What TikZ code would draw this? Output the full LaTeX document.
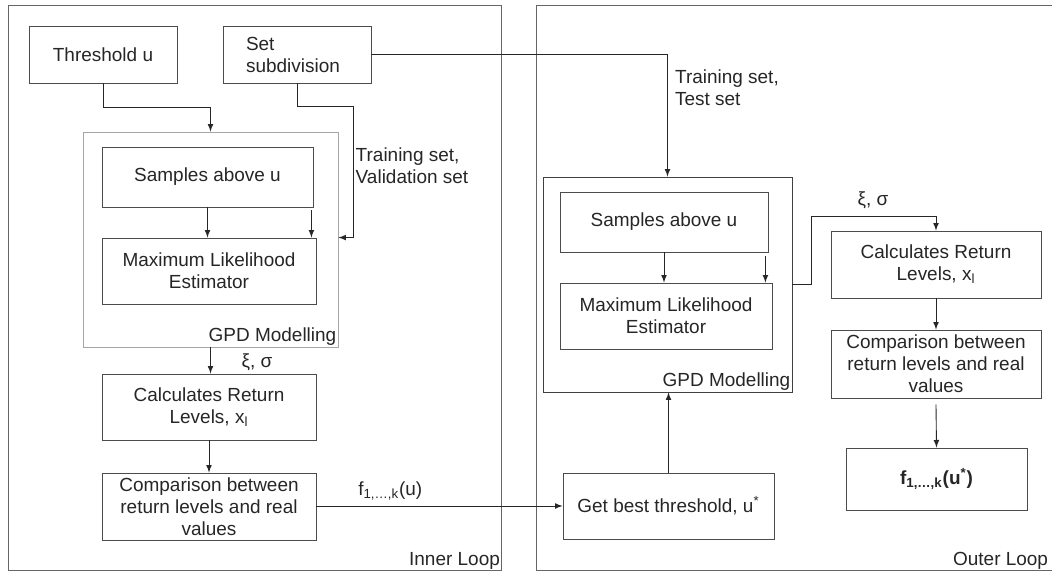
\documentclass[tikz,border=0pt]{standalone}
\usepackage{fontspec}
\setmainfont{Liberation Sans}
\tikzset{
	box/.style = {draw = black!70, line width = 0.5pt, align = center, inner sep = 1pt,
		font = \fontsize{10.8}{12.5}\selectfont},
	frame/.style = {draw, line width = 0.5pt, inner sep = 0pt},
	wire/.style = {->, line width = 0.5pt, draw = black!85},
	tag/.style = {align = left, inner sep = 1pt, text = black!85,
		font = \fontsize{10.8}{12.5}\selectfont}
}
\begin{document}
\begin{tikzpicture}[> = latex, x = 0.02cm, y = -0.02cm, text = black!85]

	\useasboundingbox (0, 0) rectangle (1052, 573);

	% Loop frames

	\draw [line width = 0.5pt, black!60] (8, 5) rectangle (501, 570);
	\draw [line width = 0.5pt, black!60] (536, 5) rectangle (1060, 570);

	\node [tag, anchor = south east] (innerlbl) at (502, 572) {Inner Loop};
	\node [tag, anchor = south west] (outerlbl) at (951, 572) {Outer Loop};

	% Inner loop

	\node [box, minimum width = 2.96cm, minimum height = 1.14cm] (thr) at (103, 54.5) {Threshold u};
	\node [box, minimum width = 2.96cm, minimum height = 1.14cm, align = left, inner xsep = 0.46cm, text width = 2.04cm] (setsub) at (297, 54.5) {Set\\subdivision};

	\node [frame, draw = black!35, minimum width = 5.10cm, minimum height = 4.30cm] (gpdA) at (210.5, 239.5) {};
	\node [tag, anchor = south east] (gpdAlbl) at (gpdA.south east) {GPD Modelling};

	\node [box, minimum width = 4.22cm, minimum height = 1.2cm] (sampA) at (207.5, 177) {Samples above u};
	\node [box, minimum width = 4.28cm, minimum height = 1.32cm] (mleA) at (209, 271) {Maximum Likelihood\\Estimator};
	\node [box, minimum width = 4.28cm, minimum height = 1.32cm] (calcA) at (209, 407) {Calculates Return\\Levels, x\textsubscript{l}};
	\node [box, minimum width = 4.28cm, minimum height = 1.34cm] (compA) at (209, 506.5) {Comparison between\\return levels and real\\values};

	% Outer loop

	\node [frame, draw = black!75, minimum width = 4.98cm, minimum height = 4.30cm] (gpdB) at (667.5, 284.5) {};
	\node [tag, anchor = south east] (gpdBlbl) at (gpdB.south east) {GPD Modelling};

	\node [box, minimum width = 4.16cm, minimum height = 1.2cm] (sampB) at (664, 222) {Samples above u};
	\node [box, minimum width = 4.24cm, minimum height = 1.32cm] (mleB) at (666, 316) {Maximum Likelihood\\Estimator};
	\node [box, minimum width = 4.22cm, minimum height = 1.32cm] (best) at (668.5, 506) {Get best threshold, u\textsuperscript{*}};

	\node [box, minimum width = 4.20cm, minimum height = 1.34cm] (calcB) at (936, 264.5) {Calculates Return\\Levels, x\textsubscript{l}};
	\node [box, minimum width = 4.20cm, minimum height = 1.36cm] (compB) at (936, 364) {Comparison between\\return levels and real\\values};
	\node [box, minimum width = 3.62cm, minimum height = 1.24cm, font = \fontsize{10.8}{12.5}\selectfont\bfseries] (fbox) at (936.5, 479) {f\textsubscript{1,\dots,k}(u\textsuperscript{*})};

	% Inner loop wires

	\draw [wire] (thr.south) -- ++(0, 24) -| (gpdA.north);
	\draw [wire] (setsub.south) -- ++(0, 23) -| ([xshift = 0.3cm] gpdA.east |- mleA.north) -- (gpdA.east |- mleA.north);
	\node [tag] (tvA) at (412, 166) {Training set,\\Validation set};

	\draw [wire] (sampA.south) -- (sampA.south |- mleA.north);
	\draw [wire] ([xshift = -0.04cm, yshift = -0.06cm] sampA.south east) -- ([xshift = -0.04cm] sampA.south east |- mleA.north);

	\draw [wire] (gpdA.south) -- (gpdA.south |- calcA.north);
	\node [tag] (parA) at (257, 362) {ξ, σ};
	\draw [wire] (calcA.south) -- (compA.north);

	\draw [wire] (compA.east |- best.west) -- node [tag, pos = 0.3, above = 2pt] (fu) {f\textsubscript{1,\dots,k}(u)} (best.west);

	% Outer loop wires

	\draw [wire] (setsub.east) -| (gpdB.north);
	\node [tag, anchor = west] (tvB) at (673, 88) {Training set,\\Test set};

	\draw [wire] (sampB.south) -- (sampB.south |- mleB.north);
	\draw [wire] ([xshift = -0.06cm, yshift = -0.08cm] sampB.south east) -- ([xshift = -0.06cm] sampB.south east |- mleB.north);

	\draw [wire] (gpdB.east) -- ++(0.38cm, 0) |- ([yshift = 0.28cm] calcB.north) -- (calcB.north);
	\node [tag] (parB) at (873, 200) {ξ, σ};

	\draw [wire] (calcB.south) -- (compB.north);
	\draw [wire] ([yshift = -0.12cm] compB.south) -- (fbox.north);

	\draw [wire] (best.north) -- (best.north |- gpdB.south);

\end{tikzpicture}
\end{document}
